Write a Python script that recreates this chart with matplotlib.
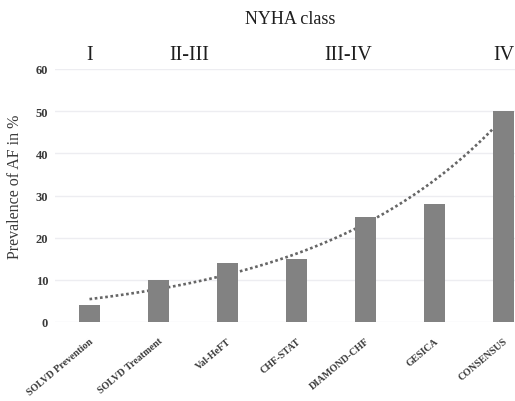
import numpy as np
import matplotlib
matplotlib.use("Agg")
import matplotlib.pyplot as plt
import matplotlib.transforms as mtransforms

studies = ["SOLVD Prevention", "SOLVD Treatment", "Val-HeFT", "CHF-STAT",
           "DIAMOND-CHF", "GESICA", "CONSENSUS"]
prevalence = [4, 10, 14, 15, 25, 28, 50]
nyha_labels = ["I", "II-III", "III-IV", "IV"]
nyha_pos = [1.0, 2.45, 4.75, 7.0]
yticks = [0, 10, 20, 30, 40, 50, 60]

plt.rcParams['font.family'] = ['Liberation Serif', 'DejaVu Serif']

W, H = 515, 402
fig = plt.figure(figsize=(W / 100, H / 100), dpi=100)

# left px 55, right px 515 ; y: 60 at 70px, 0 at 323px
ax = fig.add_axes([55 / W, (H - 323) / H, 460 / W, 253 / H])
x = np.arange(1, len(studies) + 1)

# exponential trend line fitted to the data
coef = np.polyfit(x, np.log(prevalence), 1)
xt = np.linspace(1, 7, 200)
ax.plot(xt, np.exp(np.polyval(coef, xt)), linestyle=(0, (1, 1)),
        color='#666666', lw=1.9, zorder=2)

ax.bar(x, prevalence, width=0.31, color='#828282', zorder=3)

ax.set_xlim(0.5, 0.5 + 460 / 69)
ax.set_ylim(0, 60)
ax.set_yticks(yticks)
ax.set_yticklabels([str(v) for v in yticks], fontsize=9, fontweight='bold',
                   color='#3a3a3a')
ax.tick_params(axis='y', length=0, pad=5)
ax.set_xticks(x)
ax.set_xticklabels(studies, rotation=40, ha='right', rotation_mode='anchor',
                   fontsize=7.2, fontweight='bold', color='#3a3a3a')
ax.tick_params(axis='x', length=0, pad=10)
ax.grid(axis='y', color='#ededf1', lw=1.0, zorder=0)
for s in ax.spines.values():
    s.set_visible(False)

ax.set_ylabel("Prevalence of AF in %", fontsize=11.5, color='#3a3a3a')
ax.yaxis.set_label_coords(-0.07, 0.54)

fig.text(290 / W, 1 - 19 / H, "NYHA class", fontsize=13, ha='center',
         va='center', color='#1e1e1e')
trans = mtransforms.blended_transform_factory(ax.transData, fig.transFigure)
for lab, p in zip(nyha_labels, nyha_pos):
    ax.text(p, 1 - 55 / H, lab, transform=trans,
            fontsize=14.5, ha='center', va='center', color='#1e1e1e')

fig.savefig("out.png", dpi=100)
